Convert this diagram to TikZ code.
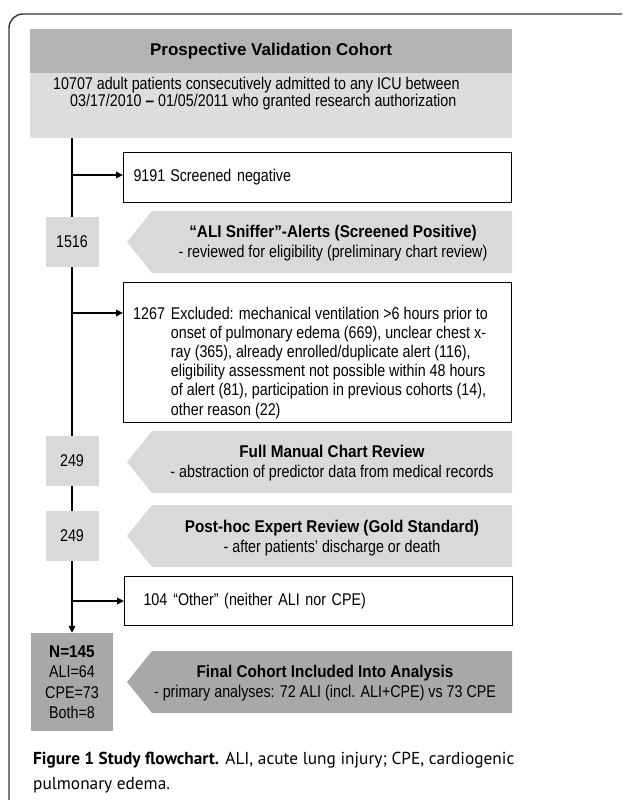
\documentclass[tikz,border=0pt]{standalone}
\usepackage{fontspec}
\setmainfont{Liberation Sans}[FakeStretch=0.84,BoldFeatures={FakeStretch=0.9}]
\newfontfamily\hdrfont{Liberation Sans}
\newfontfamily\capfont{PT Sans}
\usetikzlibrary{arrows.meta}

\definecolor{hdrgrey}{HTML}{B3B3B3}
\definecolor{bandgrey}{HTML}{DDDDDD}
\definecolor{chevgrey}{HTML}{D9D9D9}
\definecolor{finalgrey}{HTML}{A8A8A8}
\definecolor{framegrey}{HTML}{333333}

\tikzset{
  txt/.style={inner sep=0pt, font=\fontsize{17}{20.5}\selectfont},
  countbox/.style={txt, fill=chevgrey, minimum width=53pt, minimum height=50pt},
  outbox/.style={txt, draw, line width=1.1pt, fill=white, anchor=north west, inner xsep=10pt, text width=368pt, align=left},
  flow/.style={line width=1.8pt},
  flowarrow/.style={flow, -{Triangle[length=7pt,width=6.5pt]}}
}

\begin{document}
\begin{tikzpicture}[x=1pt,y=-1pt]
	\useasboundingbox (0,0) rectangle (622,800);
	\clip (0,0) rectangle (622,800);
	\fill[white] (0,0) rectangle (622,800);
	\draw[framegrey, line width=1.4pt, rounded corners=14pt] (9,14) rectangle (660,830);
	
	% header
	\fill[hdrgrey] (30,29) rectangle (512,73);
	\fill[bandgrey] (30,73) rectangle (512,138);
	\node[txt, font=\hdrfont\bfseries\fontsize{17}{20}\selectfont] (title) at (271,51) {Prospective Validation Cohort};
	\node[txt, anchor=base west] (intro1) at (53,89) {10707 adult patients consecutively admitted to any ICU between};
	\node[txt, anchor=base west] (intro2) at (70,106) {03/17/2010 \textbf{--} 01/05/2011 who granted research authorization};
	\coordinate (start) at (72,138);
	
	% chevrons
	\foreach \yc/\shade in {242/chevgrey, 462/chevgrey, 536/chevgrey, 682/finalgrey}
		\fill[\shade] (127,\yc) -- (152,\yc-31) -- (512,\yc-31) -- (512,\yc+31) -- (152,\yc+31) -- cycle;
	\node[txt, align=center] (alerts) at (333,243) {\textbf{“ALI Sniffer”-Alerts (Screened Positive)}\\- reviewed for eligibility (preliminary chart review)};
	\node[txt, align=center] (manual) at (332,463) {\textbf{Full Manual Chart Review}\\- abstraction of predictor data from medical records};
	\node[txt, align=center] (expert) at (332,538) {\textbf{Post-hoc Expert Review (Gold Standard)}\\- after patients’ discharge or death};
	\node[txt, align=center] (final) at (325,683) {\textbf{Final Cohort Included Into Analysis}\\- primary analyses: 72 ALI (incl. ALI+CPE) vs 73 CPE};
	
	% counts on the main line
	\node[countbox] (n1516) at (72,242) {1516};
	\node[countbox] (n249a) at (72,461) {249};
	\node[countbox] (n249b) at (72,536) {249};
	\node[countbox, fill=finalgrey, minimum width=82pt, minimum height=98pt, align=center] (n145) at (72,682) {\textbf{N=145}\\ALI=64\\CPE=73\\Both=8};
	
	% side boxes
	\node[outbox, minimum height=50pt] (neg) at (123,152) {9191\hspace{5pt}Screened negative};
	\node[outbox, minimum height=140pt] (excl) at (123,282) {};
	\node[txt, anchor=base west] (excltxt) at (133,319) {\fontsize{17}{19.2}\selectfont\begin{tabular}[t]{@{}l@{\hspace{6pt}}l@{}}
		1267 & Excluded: mechanical ventilation >6 hours prior to\\
		& onset of pulmonary edema (669), unclear chest x-\\
		& ray (365), already enrolled/duplicate alert (116),\\
		& eligibility assessment not possible within 48 hours\\
		& of alert (81), participation in previous cohorts (14),\\
		& other reason (22)
	\end{tabular}};
	\node[outbox, minimum height=49pt, inner xsep=19pt, text width=350pt] (other) at (124,576) {104\hspace{6pt}“Other” (neither ALI nor CPE)};
	
	% main line
	\coordinate (negbr) at (72,175);
	\coordinate (exclbr) at (72,313);
	\coordinate (otherbr) at (72,601);
	\draw[flow] (start) -- (n1516.north);
	\draw[flow] (n1516.south) -- (n249a.north);
	\draw[flow] (n249a.south) -- (n249b.north);
	\draw[flowarrow] (n249b.south) -- (n145.north);
	\draw[flowarrow] (negbr) -- (negbr -| neg.west);
	\draw[flowarrow] (exclbr) -- (exclbr -| excl.west);
	\draw[flowarrow] (otherbr) -- (otherbr -| other.west);
	
	% caption
	\node[txt, anchor=base west, align=left, font=\capfont\fontsize{17.3}{25}\selectfont] (caption) at (33,789) {\textbf{Figure 1 Study flowchart.} ALI, acute lung injury; CPE, cardiogenic\\pulmonary edema.};
\end{tikzpicture}
\end{document}
